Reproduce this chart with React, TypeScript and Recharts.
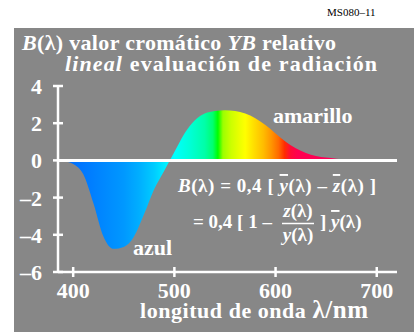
import React from 'react';
import { ComposedChart, Area, XAxis, YAxis, ReferenceLine } from 'recharts';

// wavelength (nm) and B(lambda)
const wavelengths = [
  385, 390, 400, 410, 420, 430, 440, 450, 460, 470, 480, 490, 500, 510, 520,
  530, 540, 550, 560, 570, 580, 590, 600, 610, 620, 630, 640, 650, 660, 670,
  680, 690, 700, 710, 720,
];
const bValues = [
  0, -0.03, -0.2, -0.75, -2.3, -4.1, -4.75, -4.65, -4.1, -2.9, -1.55, -0.55,
  0.45, 1.45, 2.15, 2.52, 2.66, 2.7, 2.66, 2.52, 2.27, 1.9, 1.45, 1.0, 0.65,
  0.4, 0.24, 0.15, 0.09, 0.05, 0.03, 0.02, 0.01, 0, 0,
];

const xTicks = [400, 500, 600, 700];
const yTicks = [-6, -4, -2, 0, 2, 4];

// spectral fill colours
const specWl = [
  385, 410, 430, 450, 465, 480, 492, 500, 515, 530, 538, 543, 548, 556, 565,
  570, 578, 588, 596, 603, 609, 615, 622, 720,
];
const specColors = [
  '#0066ff', '#0078ff', '#0088ff', '#0098ff', '#00aeff', '#00ccff', '#00f0ff',
  '#00ffff', '#00ffd8', '#00ffa8', '#00ff70', '#00ff00', '#9cff00', '#ccff00',
  '#eeff00', '#ffff00', '#ffe000', '#ffbc00', '#ff9400', '#ff6a00', '#ff2c00',
  '#ff0a38', '#ff0050', '#ff0064',
];

const data = wavelengths.map((wl, i) => ({ wl, b: bValues[i] }));

const FONT = 'Liberation Serif, Tinos, Times New Roman, serif';
const GRAY = '#878787';
const serif = { fontFamily: FONT };

const fmt = (v: number) => (v < 0 ? '\u2013' + Math.abs(v) : String(v));

const YTick = (props: any) => {
  const { x, y, payload } = props;
  return (
    <g>
      <line x1={x - 5} x2={x + 5} y1={y} y2={y} stroke="#fff" strokeWidth={2.5} />
      <text
        x={x - 16}
        y={y + 8}
        textAnchor="end"
        fill="#fff"
        style={serif}
        fontWeight="bold"
        fontSize={22}
      >
        {fmt(payload.value)}
      </text>
    </g>
  );
};

const XTick = (props: any) => {
  const { x, y, payload } = props;
  return (
    <g>
      <line x1={x} x2={x} y1={y - 5} y2={y + 5} stroke="#fff" strokeWidth={2.5} />
      <text
        x={x}
        y={y + 26}
        textAnchor="middle"
        fill="#fff"
        style={serif}
        fontWeight="bold"
        fontSize={22}
      >
        {payload.value}
      </text>
    </g>
  );
};

const App = () => {
  const lo = wavelengths[0];
  const hi = wavelengths[wavelengths.length - 1];
  return (
    <div
      style={{
        position: 'absolute',
        left: 0,
        top: 0,
        width: 414,
        height: 332,
        background: '#fff',
        overflow: 'hidden',
        fontFamily: FONT,
      }}
    >
      <div
        style={{
          position: 'absolute',
          left: 14,
          top: 28,
          width: 400,
          height: 304,
          background: GRAY,
        }}
      />
      <div style={{ position: 'absolute', left: 0, top: 0 }}>
        <ComposedChart
          width={414}
          height={332}
          data={data}
          margin={{ top: 86, right: 17, bottom: 0, left: 0 }}
        >
          <defs>
            <linearGradient id="spec" x1="0" y1="0" x2="1" y2="0">
              {specWl.map((w, i) => (
                <stop
                  key={w}
                  offset={(w - lo) / (hi - lo)}
                  stopColor={specColors[i]}
                />
              ))}
            </linearGradient>
          </defs>
          <XAxis
            dataKey="wl"
            type="number"
            domain={[lo, hi]}
            ticks={xTicks}
            height={60}
            tickSize={0}
            tickMargin={0}
            tickLine={false}
            axisLine={{ stroke: '#fff', strokeWidth: 2.5 }}
            tick={(p: any) => <XTick {...p} />}
            allowDataOverflow
          />
          <YAxis
            type="number"
            domain={[-6, 4]}
            ticks={yTicks}
            width={58}
            tickSize={0}
            tickMargin={0}
            tickLine={false}
            axisLine={{ stroke: '#fff', strokeWidth: 2.5 }}
            tick={(p: any) => <YTick {...p} />}
            allowDataOverflow
          />
          <Area
            type="monotone"
            dataKey="b"
            baseValue={0}
            stroke="none"
            fill="url(#spec)"
            fillOpacity={1}
            dot={false}
            activeDot={false}
            isAnimationActive={false}
          />
          <ReferenceLine y={0} stroke="#fff" strokeWidth={3} />
        </ComposedChart>
      </div>
      <svg
        width={414}
        height={332}
        style={{ position: 'absolute', left: 0, top: 0, pointerEvents: 'none', fontFamily: FONT }}
      >
        <text x={327} y={16} fontSize={11} fill="#000">
          MS080{'\u2013'}11
        </text>
        <g fill="#fff" fontWeight="bold">
          <text x={22} y={50} fontSize={22} textLength={314} lengthAdjust="spacing">
            <tspan fontStyle="italic">B</tspan>(λ) valor cromático{' '}
            <tspan fontStyle="italic">YB</tspan> relativo
          </text>
          <text x={65} y={71} fontSize={22} textLength={312} lengthAdjust="spacing">
            <tspan fontStyle="italic">lineal</tspan> evaluación de radiación
          </text>
          <text x={273} y={123} fontSize={22}>
            amarillo
          </text>
          <text x={133} y={255} fontSize={22}>
            azul
          </text>
          <text x={178} y={192} fontSize={19} textLength={198} lengthAdjust="spacing">
            <tspan fontStyle="italic">B</tspan>(λ) = 0,4 [{' '}
            <tspan fontStyle="italic" textDecoration="overline">y</tspan>(λ) {'\u2013'}{' '}
            <tspan fontStyle="italic" textDecoration="overline">z</tspan>(λ) ]
          </text>
          <text x={193} y={228} fontSize={19}>
            = 0,4 [ 1 {'\u2013'}
          </text>
          <text x={298} y={217} fontSize={19} textAnchor="middle">
            <tspan fontStyle="italic">z</tspan>(λ)
          </text>
          <line x1={282} x2={314} y1={223.5} y2={223.5} stroke="#fff" strokeWidth={1.5} />
          <text x={298} y={241} fontSize={19} textAnchor="middle">
            <tspan fontStyle="italic">y</tspan>(λ)
          </text>
          <text x={320} y={228} fontSize={19}>
            ] <tspan fontStyle="italic" textDecoration="overline">y</tspan>(λ)
          </text>
          <text x={140} y={318} fontSize={22} textLength={228} lengthAdjust="spacing">
            longitud de onda <tspan fontSize={25}>λ/nm</tspan>
          </text>
        </g>
      </svg>
    </div>
  );
};

export default App;
